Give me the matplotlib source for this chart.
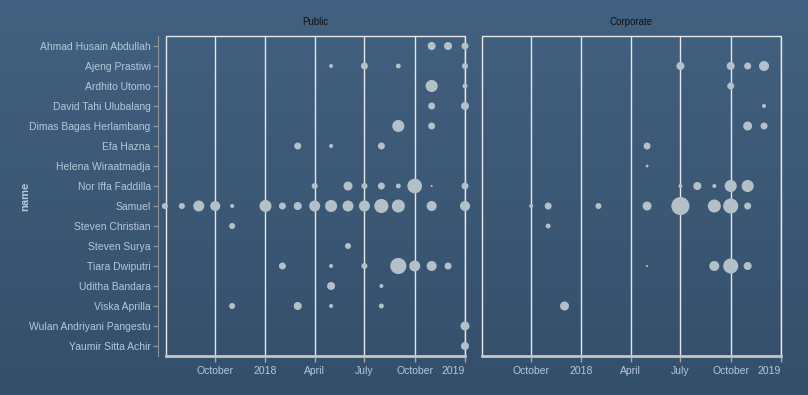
import numpy as np
import pandas as pd
import matplotlib
matplotlib.use("Agg")
import matplotlib.pyplot as plt
from matplotlib.patches import Rectangle

names = ["Ahmad Husain Abdullah", "Ajeng Prastiwi", "Ardhito Utomo",
         "David Tahi Ulubalang", "Dimas Bagas Herlambang", "Efa Hazna",
         "Helena Wiraatmadja", "Nor Iffa Faddilla", "Samuel",
         "Steven Christian", "Steven Surya", "Tiara Dwiputri",
         "Uditha Bandara", "Viska Aprilla", "Wulan Andriyani Pangestu",
         "Yaumir Sitta Achir"]

# name -> [(month, count)]
public = {
    "Ahmad Husain Abdullah": [("2018-11", 16), ("2018-12", 16), ("2019-01", 12)],
    "Ajeng Prastiwi": [("2018-05", 4), ("2018-07", 12), ("2018-09", 6), ("2019-01", 9)],
    "Ardhito Utomo": [("2018-11", 36), ("2019-01", 6)],
    "David Tahi Ulubalang": [("2018-11", 12), ("2019-01", 16)],
    "Dimas Bagas Herlambang": [("2018-09", 36), ("2018-11", 12)],
    "Efa Hazna": [("2018-03", 12), ("2018-05", 4), ("2018-08", 12)],
    "Nor Iffa Faddilla": [("2018-04", 9), ("2018-06", 20), ("2018-07", 9), ("2018-08", 12),
                          ("2018-09", 6), ("2018-10", 53), ("2018-11", 1), ("2019-01", 12)],
    "Samuel": [("2017-07", 9), ("2017-08", 9), ("2017-09", 30), ("2017-10", 25),
               ("2017-11", 4), ("2018-01", 36), ("2018-02", 12), ("2018-03", 16),
               ("2018-04", 30), ("2018-05", 36), ("2018-06", 30), ("2018-07", 30),
               ("2018-08", 49), ("2018-09", 42), ("2018-11", 25), ("2019-01", 25)],
    "Steven Christian": [("2017-11", 9)],
    "Steven Surya": [("2018-06", 9)],
    "Tiara Dwiputri": [("2018-02", 12), ("2018-05", 4), ("2018-07", 9), ("2018-09", 64),
                       ("2018-10", 30), ("2018-11", 25), ("2018-12", 12)],
    "Uditha Bandara": [("2018-05", 16), ("2018-08", 4)],
    "Viska Aprilla": [("2017-11", 9), ("2018-03", 16), ("2018-05", 4), ("2018-08", 6)],
    "Wulan Andriyani Pangestu": [("2019-01", 20)],
    "Yaumir Sitta Achir": [("2019-01", 16)],
}

corporate = {
    "Ajeng Prastiwi": [("2018-07", 16), ("2018-10", 16), ("2018-11", 12), ("2018-12", 25)],
    "Ardhito Utomo": [("2018-10", 12)],
    "David Tahi Ulubalang": [("2018-12", 4)],
    "Dimas Bagas Herlambang": [("2018-11", 20), ("2018-12", 12)],
    "Efa Hazna": [("2018-05", 12)],
    "Helena Wiraatmadja": [("2018-05", 2)],
    "Nor Iffa Faddilla": [("2018-07", 4), ("2018-08", 16), ("2018-09", 4),
                          ("2018-10", 36), ("2018-11", 36)],
    "Samuel": [("2017-10", 4), ("2017-11", 12), ("2018-02", 9), ("2018-05", 20),
               ("2018-07", 81), ("2018-09", 42), ("2018-10", 56), ("2018-11", 12)],
    "Steven Christian": [("2017-11", 6)],
    "Tiara Dwiputri": [("2018-05", 1), ("2018-09", 25), ("2018-10", 56), ("2018-11", 16)],
    "Viska Aprilla": [("2017-12", 20)],
}

tick_dates = ["2017-10-01", "2018-01-01", "2018-04-01", "2018-07-01", "2018-10-01", "2019-01-01"]
tick_labels = ["October", "2018", "April", "July", "October", "2019"]

plt.rcParams['font.family'] = ['Liberation Sans', 'DejaVu Sans']

fig = plt.figure(figsize=(8.08, 3.95), dpi=100)

# background gradient
bg = fig.add_axes([0, 0, 1, 1], zorder=-10)
top = np.array([0x42, 0x61, 0x80]) / 255
bot = np.array([0x34, 0x4f, 0x6a]) / 255
t = np.linspace(0, 1, 256)[:, None]
grad = (top * (1 - t) + bot * t)[:, None, :]
bg.imshow(grad, aspect='auto', extent=[0, 1, 0, 1])
bg.axis('off')

xmin = pd.Timestamp("2017-07-03")
xmax = pd.Timestamp("2019-01-01")
ticks = pd.to_datetime(tick_dates)

frame_col = '#e8e8e8'
text_col = '#b4c8dc'
dot_col = '#b4c0c8'
axis_col = '#8e9296'

panels = [("Public", public, 166), ("Corporate", corporate, 482)]
for title, data, left in panels:
    ax = fig.add_axes([left / 808, 1 - 356 / 395, 299 / 808, 320 / 395])
    ax.patch.set_alpha(0)
    for i, nm in enumerate(names):
        if nm not in data:
            continue
        d = pd.to_datetime([m + "-01" for m, c in data[nm]])
        c = np.array([c for m, c in data[nm]], dtype=float)
        ax.scatter(d, np.full(len(d), i), s=c * 2.1, color=dot_col,
                   edgecolors='none', zorder=3, clip_on=False)
    ax.set_xlim(xmin, xmax)
    ax.set_ylim(len(names) - 0.5, -0.5)
    for tk in ticks:
        ax.axvline(tk, color=frame_col, lw=1, zorder=1)
    ax.set_xticks(ticks)
    ax.set_xticklabels(tick_labels)
    ax.get_xticklabels()[-1].set_ha('right')
    ax.tick_params(axis='x', colors='#a8a8a8', labelcolor=text_col,
                   labelsize=7.5, length=4, width=1, pad=3)
    ax.add_patch(Rectangle((0, 0), 1, 1, transform=ax.transAxes, fill=False,
                           edgecolor=frame_col, lw=1, zorder=2, clip_on=False))
    for s in ['top', 'right']:
        ax.spines[s].set_visible(False)
    ax.spines['bottom'].set_color('#c4c4c4')
    ax.spines['bottom'].set_linewidth(2)
    ax.set_title(title, fontsize=7, color='#111111', pad=8)
    if left == 166:
        ax.spines['left'].set_position(('outward', 6))
        ax.spines['left'].set_color(axis_col)
        ax.set_yticks(range(len(names)))
        ax.set_yticklabels(names)
        ax.tick_params(axis='y', colors=axis_col, labelcolor=text_col,
                       labelsize=7.5, length=3.5, width=1, pad=1.5)
    else:
        ax.spines['left'].set_visible(False)
        ax.set_yticks([])

fig.text(25 / 808, 1 - 196 / 395, "name", rotation=90, ha='center', va='center',
         fontsize=8, fontweight='bold', color=text_col)

fig.savefig("out.png", dpi=100)
